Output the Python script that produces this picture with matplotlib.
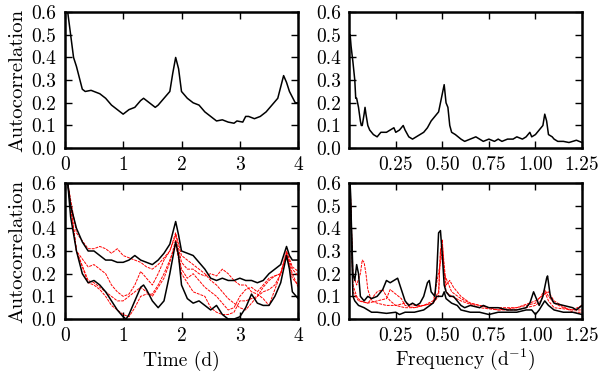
import matplotlib
matplotlib.use("Agg")
import matplotlib.pyplot as plt
import numpy as np

plt.rcParams['font.family'] = ['cmr10', 'DejaVu Serif']
plt.rcParams['mathtext.fontset'] = 'cm'
plt.rcParams['axes.formatter.use_mathtext'] = True
plt.rcParams['axes.unicode_minus'] = False

# ---- top-left: autocorrelation vs time ----
t_top = [0.05, 0.1, 0.15, 0.2, 0.3, 0.35, 0.45, 0.6, 0.7, 0.8, 0.9, 1.0, 1.1, 1.2, 1.3, 1.35,
         1.5, 1.55, 1.6, 1.7, 1.8, 1.85, 1.9, 1.95, 2.0, 2.1, 2.2, 2.3, 2.4, 2.5, 2.6, 2.7,
         2.8, 2.9, 2.95, 3.05, 3.1, 3.15, 3.25, 3.35, 3.45, 3.55, 3.65, 3.75, 3.8, 3.85, 3.95, 4.0]
ac_top = [0.6, 0.5, 0.4, 0.36, 0.26, 0.25, 0.255, 0.24, 0.22, 0.19, 0.17, 0.15, 0.17, 0.18, 0.21, 0.22,
          0.19, 0.18, 0.19, 0.22, 0.25, 0.33, 0.40, 0.35, 0.25, 0.22, 0.2, 0.19, 0.16, 0.14, 0.12, 0.125,
          0.115, 0.11, 0.12, 0.115, 0.14, 0.14, 0.13, 0.14, 0.16, 0.19, 0.22, 0.32, 0.29, 0.25, 0.2, 0.2]

# ---- top-right: autocorrelation vs frequency ----
f_top = [0.005, 0.01, 0.02, 0.03, 0.035, 0.04, 0.05, 0.06, 0.065, 0.07, 0.08, 0.085, 0.09, 0.1, 0.11,
         0.13, 0.15, 0.17, 0.2, 0.22, 0.24, 0.25, 0.27, 0.29, 0.3, 0.32, 0.34, 0.36, 0.38, 0.4, 0.42,
         0.44, 0.46, 0.48, 0.49, 0.5, 0.51, 0.52, 0.53, 0.54, 0.55, 0.57, 0.6, 0.62, 0.65, 0.68, 0.7,
         0.72, 0.75, 0.78, 0.8, 0.82, 0.85, 0.88, 0.9, 0.93, 0.95, 0.97, 0.98, 1.0, 1.02, 1.04, 1.05,
         1.06, 1.07, 1.09, 1.1, 1.12, 1.15, 1.18, 1.2, 1.22, 1.25]
acf_top = [0.5, 0.45, 0.38, 0.3, 0.22, 0.22, 0.18, 0.12, 0.1, 0.1, 0.15, 0.18, 0.15, 0.1, 0.08,
           0.06, 0.05, 0.07, 0.07, 0.08, 0.09, 0.07, 0.08, 0.1, 0.08, 0.05, 0.04, 0.05, 0.06, 0.07, 0.09,
           0.12, 0.14, 0.16, 0.2, 0.24, 0.28, 0.2, 0.18, 0.1, 0.07, 0.06, 0.04, 0.03, 0.04, 0.05, 0.04,
           0.03, 0.04, 0.03, 0.04, 0.03, 0.04, 0.04, 0.05, 0.04, 0.05, 0.07, 0.05, 0.06, 0.08, 0.1, 0.15,
           0.12, 0.06, 0.05, 0.04, 0.03, 0.03, 0.025, 0.03, 0.035, 0.025]

# ---- bottom-left: time series (black = observed, red = models) ----
t_blk_a = [0.05, 0.1, 0.2, 0.3, 0.4, 0.5, 0.6, 0.7, 0.8, 0.9, 1.0, 1.1, 1.2, 1.3, 1.4, 1.5, 1.6, 1.7,
           1.8, 1.9, 1.95, 2.0, 2.1, 2.2, 2.3, 2.4, 2.5, 2.6, 2.7, 2.8, 2.9, 3.0, 3.1, 3.2, 3.3, 3.4,
           3.5, 3.6, 3.7, 3.8, 3.85, 3.9, 4.0]
ac_blk_a = [0.6, 0.5, 0.4, 0.34, 0.3, 0.3, 0.28, 0.26, 0.26, 0.25, 0.25, 0.26, 0.28, 0.26, 0.25, 0.24,
            0.26, 0.29, 0.33, 0.43, 0.37, 0.30, 0.29, 0.28, 0.25, 0.22, 0.18, 0.17, 0.18, 0.17, 0.17,
            0.18, 0.17, 0.17, 0.16, 0.17, 0.2, 0.22, 0.24, 0.32, 0.28, 0.26, 0.26]
t_blk_b = [0.05, 0.1, 0.2, 0.3, 0.4, 0.5, 0.6, 0.7, 0.8, 0.9, 1.0, 1.05, 1.1, 1.2, 1.3, 1.35, 1.4, 1.5,
           1.6, 1.7, 1.8, 1.9, 1.95, 2.0, 2.1, 2.2, 2.3, 2.4, 2.5, 2.6, 2.7, 2.8, 2.9, 3.0, 3.1, 3.2,
           3.3, 3.4, 3.5, 3.6, 3.7, 3.8, 3.85, 3.9, 4.0]
ac_blk_b = [0.6, 0.45, 0.3, 0.2, 0.16, 0.17, 0.15, 0.12, 0.08, 0.04, 0.01, 0.0, 0.02, 0.08, 0.14, 0.15,
            0.13, 0.08, 0.05, 0.08, 0.2, 0.34, 0.28, 0.15, 0.09, 0.07, 0.08, 0.06, 0.04, 0.06, 0.02,
            0.0, 0.0, 0.01, 0.05, 0.11, 0.07, 0.06, 0.06, 0.1, 0.16, 0.28, 0.22, 0.12, 0.09]
t_red = [0.05, 0.2, 0.4, 0.5, 0.6, 0.7, 0.8, 0.9, 1.0, 1.1, 1.2, 1.3, 1.4, 1.5, 1.6, 1.7, 1.8, 1.9,
         2.0, 2.1, 2.2, 2.3, 2.4, 2.5, 2.6, 2.7, 2.8, 2.9, 3.0, 3.1, 3.2, 3.3, 3.4, 3.5, 3.6, 3.7,
         3.8, 3.9, 4.0]
ac_red_1 = [0.6, 0.38, 0.31, 0.31, 0.32, 0.31, 0.29, 0.31, 0.28, 0.27, 0.26, 0.25, 0.23, 0.22, 0.24,
            0.27, 0.3, 0.38, 0.28, 0.26, 0.24, 0.22, 0.2, 0.17, 0.15, 0.12, 0.09, 0.07, 0.05, 0.04,
            0.07, 0.1, 0.14, 0.17, 0.19, 0.2, 0.3, 0.23, 0.21]
ac_red_2 = [0.6, 0.3, 0.23, 0.24, 0.22, 0.2, 0.15, 0.12, 0.1, 0.11, 0.15, 0.21, 0.18, 0.15, 0.2,
            0.26, 0.3, 0.37, 0.25, 0.22, 0.22, 0.2, 0.19, 0.2, 0.19, 0.22, 0.2, 0.17, 0.15, 0.15,
            0.12, 0.11, 0.09, 0.06, 0.13, 0.2, 0.29, 0.2, 0.14]
ac_red_3 = [0.6, 0.3, 0.17, 0.16, 0.14, 0.12, 0.1, 0.08, 0.08, 0.1, 0.12, 0.14, 0.12, 0.1, 0.14,
            0.18, 0.25, 0.35, 0.22, 0.18, 0.2, 0.17, 0.14, 0.12, 0.1, 0.07, 0.04, 0.05, 0.1, 0.13,
            0.14, 0.12, 0.15, 0.18, 0.19, 0.2, 0.29, 0.22, 0.19]
ac_red_4 = [0.6, 0.3, 0.16, 0.15, 0.13, 0.1, 0.06, 0.04, 0.02, 0.01, 0.05, 0.1, 0.11, 0.11, 0.15,
            0.2, 0.26, 0.33, 0.2, 0.16, 0.12, 0.11, 0.1, 0.05, 0.03, 0.02, 0.02, 0.03, 0.08, 0.08,
            0.09, 0.1, 0.12, 0.13, 0.15, 0.2, 0.28, 0.18, 0.15]

# ---- bottom-right: frequency (black = observed, red = models) ----
f_blk_a = [0.005, 0.02, 0.03, 0.04, 0.05, 0.06, 0.08, 0.1, 0.12, 0.15, 0.18, 0.2, 0.22, 0.24, 0.26,
           0.28, 0.3, 0.32, 0.34, 0.36, 0.38, 0.4, 0.42, 0.43, 0.44, 0.46, 0.47, 0.48, 0.49, 0.5, 0.51,
           0.52, 0.54, 0.56, 0.58, 0.6, 0.62, 0.65, 0.7, 0.72, 0.75, 0.8, 0.85, 0.9, 0.95, 0.97,
           0.99, 1.0, 1.02, 1.04, 1.06, 1.065, 1.08, 1.1, 1.15, 1.2, 1.22, 1.25]
acf_blk_a = [0.6, 0.2, 0.17, 0.24, 0.2, 0.1, 0.08, 0.1, 0.09, 0.1, 0.13, 0.17, 0.16, 0.17, 0.18,
             0.13, 0.08, 0.06, 0.07, 0.06, 0.07, 0.1, 0.16, 0.17, 0.12, 0.1, 0.2, 0.38, 0.39, 0.28,
             0.15, 0.12, 0.1, 0.1, 0.08, 0.06, 0.05, 0.06, 0.05, 0.06, 0.05, 0.05, 0.04, 0.04, 0.05,
             0.07, 0.12, 0.1, 0.06, 0.1, 0.18, 0.19, 0.1, 0.07, 0.06, 0.05, 0.04, 0.06]
f_blk_b = [0.005, 0.02, 0.03, 0.05, 0.08, 0.1, 0.12, 0.15, 0.2, 0.25, 0.27, 0.3, 0.35, 0.4, 0.45,
           0.47, 0.5, 0.51, 0.52, 0.55, 0.58, 0.6, 0.65, 0.7, 0.75, 0.8, 0.85, 0.9, 0.95, 0.98, 1.0,
           1.02, 1.05, 1.07, 1.1, 1.15, 1.2, 1.25]
acf_blk_b = [0.6, 0.1, 0.08, 0.06, 0.05, 0.04, 0.03, 0.03, 0.025, 0.03, 0.02, 0.03, 0.03, 0.04, 0.07,
             0.1, 0.1, 0.12, 0.09, 0.07, 0.06, 0.04, 0.03, 0.03, 0.02, 0.03, 0.03, 0.03, 0.04, 0.04,
             0.02, 0.04, 0.08, 0.06, 0.04, 0.03, 0.03, 0.02]
f_red_1 = [0.005, 0.02, 0.04, 0.06, 0.07, 0.08, 0.09, 0.1, 0.12, 0.15, 0.2, 0.25, 0.3, 0.35, 0.4,
           0.45, 0.48, 0.49, 0.5, 0.51, 0.53, 0.55, 0.6, 0.65, 0.7, 0.75, 0.8, 0.85, 0.9, 0.95, 1.0,
           1.03, 1.05, 1.07, 1.1, 1.15, 1.2, 1.25]
acf_red_1 = [0.6, 0.2, 0.15, 0.2, 0.26, 0.25, 0.2, 0.13, 0.08, 0.07, 0.06, 0.06, 0.07, 0.06, 0.06,
             0.07, 0.1, 0.3, 0.35, 0.2, 0.16, 0.12, 0.09, 0.07, 0.06, 0.05, 0.05, 0.05, 0.05, 0.06,
             0.07, 0.1, 0.13, 0.1, 0.07, 0.05, 0.04, 0.06]
f_red_2 = [0.005, 0.02, 0.04, 0.06, 0.1, 0.13, 0.15, 0.18, 0.2, 0.22, 0.25, 0.3, 0.35, 0.4, 0.45,
           0.48, 0.49, 0.5, 0.52, 0.54, 0.56, 0.6, 0.65, 0.7, 0.8, 0.9, 1.0, 1.03, 1.05, 1.07, 1.1,
           1.2, 1.25]
acf_red_2 = [0.6, 0.15, 0.1, 0.08, 0.07, 0.1, 0.12, 0.13, 0.1, 0.08, 0.06, 0.05, 0.05, 0.06, 0.08,
             0.12, 0.3, 0.33, 0.15, 0.17, 0.14, 0.1, 0.07, 0.06, 0.04, 0.04, 0.06, 0.08, 0.12, 0.08,
             0.05, 0.04, 0.04]
f_red_3 = [0.005, 0.02, 0.05, 0.1, 0.15, 0.2, 0.22, 0.25, 0.28, 0.3, 0.35, 0.4, 0.45, 0.49, 0.5,
           0.52, 0.55, 0.6, 0.7, 0.8, 0.9, 1.0, 1.05, 1.07, 1.1, 1.2, 1.25]
acf_red_3 = [0.6, 0.12, 0.08, 0.07, 0.08, 0.09, 0.13, 0.11, 0.09, 0.06, 0.05, 0.06, 0.07, 0.25, 0.3,
             0.12, 0.1, 0.08, 0.05, 0.04, 0.05, 0.08, 0.11, 0.12, 0.08, 0.03, 0.03]

time_ticks = [0, 1, 2, 3, 4]
freq_ticks = [0.25, 0.5, 0.75, 1.0, 1.25]
freq_tick_labels = ['0.25', '0.50', '0.75', '1.00', '1.25']
y_ticks = [0.0, 0.1, 0.2, 0.3, 0.4, 0.5, 0.6]
y_tick_labels = ['0.0', '0.1', '0.2', '0.3', '0.4', '0.5', '0.6']

fig = plt.figure(figsize=(6.0, 3.78), dpi=100)
pos = {
    'tl': [0.108, 0.608, 0.389, 0.360],
    'tr': [0.582, 0.608, 0.388, 0.360],
    'bl': [0.108, 0.156, 0.389, 0.360],
    'br': [0.582, 0.156, 0.388, 0.360],
}
axes = {k: fig.add_axes(v) for k, v in pos.items()}

red_style = dict(color='red', lw=0.7, ls=(0, (3, 1)))
blk_style = dict(color='black', lw=1.1)

axes['tl'].plot(t_top, ac_top, **blk_style)
axes['tr'].plot(f_top, acf_top, **blk_style)
for y in (ac_red_1, ac_red_2, ac_red_3, ac_red_4):
    axes['bl'].plot(t_red, y, **red_style)
axes['bl'].plot(t_blk_a, ac_blk_a, **blk_style)
axes['bl'].plot(t_blk_b, ac_blk_b, **blk_style)
for x, y in ((f_red_1, acf_red_1), (f_red_2, acf_red_2), (f_red_3, acf_red_3)):
    axes['br'].plot(x, y, **red_style)
axes['br'].plot(f_blk_a, acf_blk_a, **blk_style)
axes['br'].plot(f_blk_b, acf_blk_b, **blk_style)

FS = 14
for k, ax in axes.items():
    ax.set_ylim(0, 0.6)
    ax.set_yticks(y_ticks)
    ax.set_yticklabels(y_tick_labels)
    if k in ('tl', 'bl'):
        ax.set_xlim(0, 4)
        ax.set_xticks(time_ticks)
        ax.set_xticklabels([str(v) for v in time_ticks])
        ax.set_ylabel('Autocorrelation', fontsize=FS + 1, labelpad=4)
    else:
        ax.set_xlim(0, 1.25)
        ax.set_xticks(freq_ticks)
        ax.set_xticklabels(freq_tick_labels)
    ax.tick_params(direction='in', top=True, right=True, length=5, width=1,
                   labelsize=FS)
    ax.tick_params(axis='y', pad=6)
    ax.tick_params(axis='x', pad=6)
    for s in ax.spines.values():
        s.set_linewidth(1.8)

axes['bl'].set_xlabel('Time (d)', fontsize=FS, labelpad=4)
axes['br'].set_xlabel(r'Frequency (d$^{-1}$)', fontsize=FS, labelpad=1)

fig.savefig('out.png', dpi=100)
